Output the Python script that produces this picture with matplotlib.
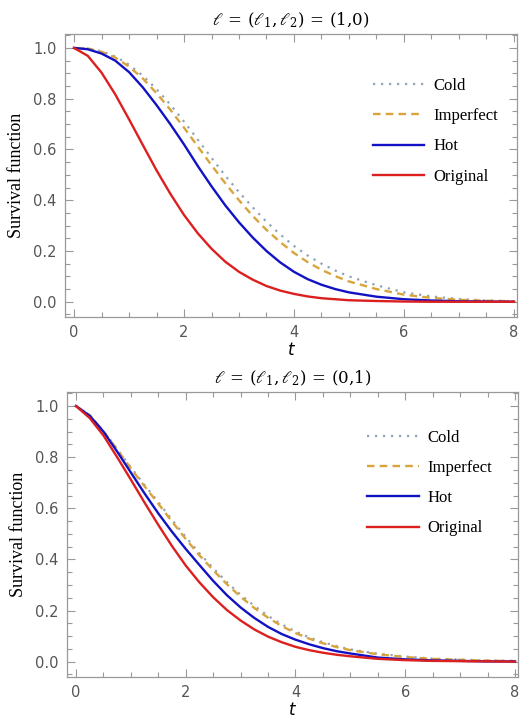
import matplotlib
matplotlib.use("Agg")
import matplotlib.pyplot as plt
from matplotlib.ticker import MultipleLocator

t = [0, 0.25, 0.5, 0.75, 1.0, 1.25, 1.5, 1.75, 2.0, 2.25, 2.5, 2.75, 3.0, 3.25,
     3.5, 3.75, 4.0, 4.25, 4.5, 4.75, 5.0, 5.5, 6.0, 6.5, 7.0, 7.5, 8.0]

# Panel 1: l = (1,0)
cold_10 = [1.0, 0.998, 0.987, 0.966, 0.934, 0.891, 0.838, 0.777, 0.710, 0.639, 0.567,
           0.497, 0.432, 0.372, 0.315, 0.265, 0.220, 0.182, 0.150, 0.123, 0.100,
           0.065, 0.037, 0.021, 0.011, 0.005, 0.002]
imperfect_10 = [1.0, 0.998, 0.985, 0.962, 0.927, 0.880, 0.822, 0.757, 0.686, 0.612, 0.538,
                0.467, 0.400, 0.338, 0.283, 0.235, 0.192, 0.156, 0.126, 0.101, 0.080,
                0.050, 0.028, 0.015, 0.008, 0.004, 0.002]
hot_10 = [1.0, 0.995, 0.978, 0.950, 0.905, 0.845, 0.775, 0.700, 0.620, 0.535, 0.455,
          0.380, 0.313, 0.253, 0.200, 0.155, 0.118, 0.089, 0.067, 0.050, 0.037,
          0.020, 0.010, 0.005, 0.002, 0.001, 0.0]
original_10 = [1.0, 0.969, 0.903, 0.817, 0.719, 0.618, 0.518, 0.426, 0.342, 0.270, 0.209,
               0.158, 0.118, 0.087, 0.062, 0.044, 0.031, 0.021, 0.014, 0.010, 0.006,
               0.003, 0.001, 0.0, 0.0, 0.0, 0.0]

# Panel 2: l = (0,1)
cold_01 = [1.0, 0.964, 0.903, 0.832, 0.760, 0.691, 0.624, 0.555, 0.488, 0.424, 0.366,
           0.311, 0.262, 0.218, 0.179, 0.146, 0.118, 0.095, 0.076, 0.061, 0.048,
           0.031, 0.020, 0.012, 0.008, 0.005, 0.003]
imperfect_01 = [1.0, 0.964, 0.902, 0.830, 0.756, 0.686, 0.618, 0.548, 0.480, 0.416, 0.358,
                0.303, 0.254, 0.210, 0.172, 0.139, 0.112, 0.090, 0.072, 0.057, 0.045,
                0.029, 0.018, 0.011, 0.007, 0.004, 0.002]
hot_01 = [1.0, 0.962, 0.900, 0.822, 0.740, 0.658, 0.580, 0.508, 0.441, 0.378, 0.316,
          0.260, 0.212, 0.171, 0.136, 0.108, 0.086, 0.068, 0.053, 0.041, 0.032,
          0.016, 0.009, 0.005, 0.003, 0.001, 0.001]
original_01 = [1.0, 0.953, 0.885, 0.800, 0.712, 0.622, 0.535, 0.452, 0.376, 0.310, 0.252,
               0.202, 0.161, 0.126, 0.098, 0.076, 0.058, 0.045, 0.035, 0.027, 0.021,
               0.011, 0.006, 0.003, 0.002, 0.001, 0.0]

series_labels = ["Cold", "Imperfect", "Hot", "Original"]
titles = [r"$\ell\,=\,(\ell_1,\ell_2)\,=\,(1{,}0)$", r"$\ell\,=\,(\ell_1,\ell_2)\,=\,(0{,}1)$"]
x_ticks = [0, 2, 4, 6, 8]
y_ticks = [0.0, 0.2, 0.4, 0.6, 0.8, 1.0]

plt.rcParams["mathtext.fontset"] = "dejavuserif"

fig = plt.figure(figsize=(5.2, 7.18), dpi=100)
ax1 = fig.add_axes([65/520, 1-317/718, 452/520, 283/718])
ax2 = fig.add_axes([67/520, 1-677/718, 451/520, 285/718])

styles = [
    dict(color="#8fa3b8", linestyle=(0, (1, 2.6)), linewidth=1.6),
    dict(color="#d9a43c", linestyle=(0, (3.2, 2.2)), linewidth=1.7),
    dict(color="#1212c4", linestyle="-", linewidth=1.7),
    dict(color="#dc1f1f", linestyle="-", linewidth=1.7),
]

panels = [
    (ax1, [cold_10, imperfect_10, hot_10, original_10], titles[0], (0.681, 0.844)),
    (ax2, [cold_01, imperfect_01, hot_01, original_01], titles[1], (0.665, 0.867)),
]

gray = "#999999"
for ax, data, title, lpos in panels:
    for ys, lab, st in zip(data, series_labels, styles):
        ax.plot(t, ys, label=lab, **st)
    ax.set_xlim(-0.164, 8.055)
    ax.set_ylim(-0.06, 1.055)
    ax.set_xticks(x_ticks)
    ax.set_yticks(y_ticks)
    ax.set_yticklabels([f"{v:.1f}" for v in y_ticks])
    ax.xaxis.set_minor_locator(MultipleLocator(0.5))
    ax.yaxis.set_minor_locator(MultipleLocator(0.05))
    ax.tick_params(which="both", direction="in", top=True, right=True,
                   color=gray, labelcolor="#555555", labelsize=10.5, width=0.8)
    ax.tick_params(which="major", length=6, pad=6)
    ax.tick_params(which="minor", length=3.5)
    for sp in ax.spines.values():
        sp.set_color(gray)
        sp.set_linewidth(0.9)
    ax.set_ylabel("Survival function", family="Liberation Serif", fontsize=13, labelpad=6)
    ax.set_xlabel("t", fontstyle="italic", fontsize=12, labelpad=0.5)
    ax.set_title(title, fontsize=12, pad=6)
    ax.legend(loc="upper left", bbox_to_anchor=lpos, frameon=False,
              prop={"family": "Liberation Serif", "size": 12},
              handlelength=3.1, handletextpad=0.55, labelspacing=0.85,
              borderpad=0, borderaxespad=0)

fig.savefig("out.png", dpi=100)
